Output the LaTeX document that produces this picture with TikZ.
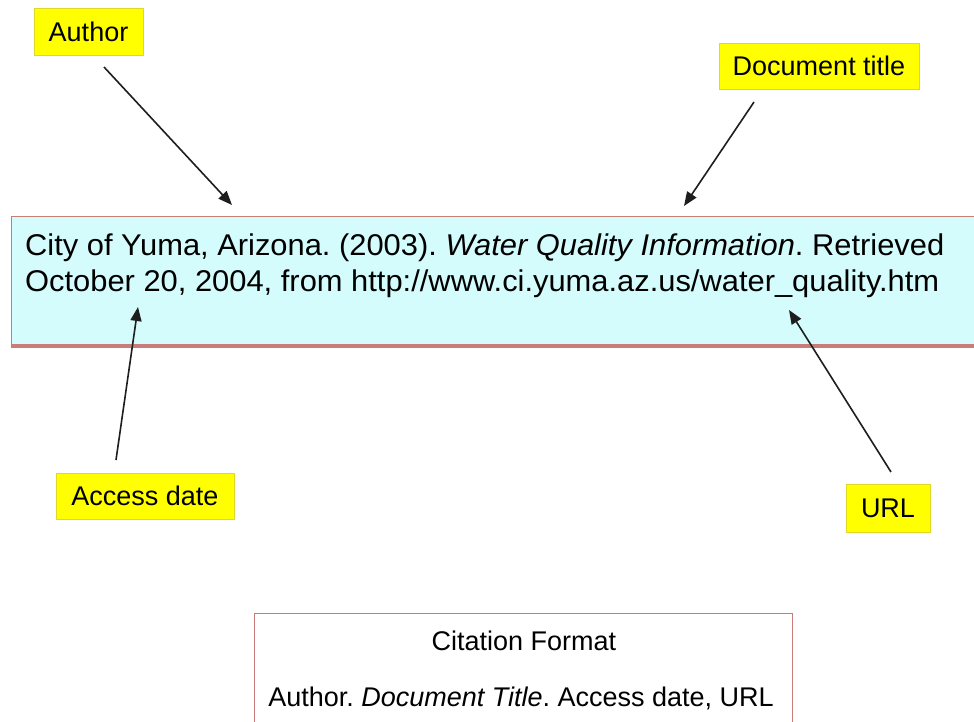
\documentclass[tikz,border=0pt]{standalone}
\usepackage{fontspec}
\setmainfont{Liberation Sans}
\usetikzlibrary{arrows.meta}
\frenchspacing
\definecolor{lblyellow}{RGB}{255,255,0}
\definecolor{lblborder}{RGB}{225,215,40}
\definecolor{boxfill}{RGB}{212,252,252}
\definecolor{boxborder}{RGB}{200,125,120}
\definecolor{arrowgray}{RGB}{30,30,30}
\tikzset{
  label box/.style={fill=lblyellow, draw=lblborder, line width=0.8pt, inner sep=0pt,
    font=\fontsize{27}{31}\selectfont, text=black},
  pointer/.style={draw=arrowgray, line width=1.6pt,
    -{Triangle[length=14pt,width=11pt]}},
  maintext/.style={anchor=base west, inner sep=0pt, font=\fontsize{30}{34}\selectfont},
}
\begin{document}
\begin{tikzpicture}[x=1pt,y=-1pt]
\clip (0,0) rectangle (974,721);
\fill[white] (0,0) rectangle (974,721);
% main citation box
\node[draw=boxborder, fill=boxfill, line width=1.2pt, minimum width=975pt, minimum height=128pt,
  inner sep=0pt, anchor=north west] (citation) at (11,216) {};
\draw[boxborder, line width=3pt] ([yshift=-1pt]citation.south west) -- ([yshift=-1pt]citation.south east);
\node[maintext] (line1) at (25,255)
  {\resizebox{919pt}{\height}{City of Yuma, Arizona. (2003). \textit{Water Quality Information}. Retrieved}};
\node[maintext] (line2) at (25,291)
  {\resizebox{914pt}{\height}{October 20, 2004, from http://www.ci.yuma.az.us/water\_quality.htm}};
% labels
\node[label box, minimum width=109pt, minimum height=47pt] (author) at (88.5,31.5) {Author};
\node[label box, minimum width=200pt, minimum height=46pt] (doctitle) at (819,66) {Document title};
\node[label box, minimum width=178pt, minimum height=46pt] (access) at (145,496) {Access date};
\node[label box, minimum width=84pt, minimum height=48pt] (url) at (888,508) {URL};
% arrow ends
\coordinate (authorTail) at (104,67);
\coordinate (authorTip) at (232,205);
\coordinate (titleTail) at (754,102);
\coordinate (titleTip) at (684,206);
\coordinate (accessTail) at (116,460);
\coordinate (accessTip) at (138,307);
\coordinate (urlTail) at (891,472);
\coordinate (urlTip) at (789,310);
\draw[pointer] (authorTail) -- (authorTip);
\draw[pointer] (titleTail) -- (titleTip);
\draw[pointer] (accessTail) -- (accessTip);
\draw[pointer] (urlTail) -- (urlTip);
% format box
\node[draw=boxborder, fill=white, line width=1.2pt, minimum width=538pt, minimum height=140pt,
  inner sep=0pt, anchor=north west] (format) at (254,613) {};
\node[anchor=base, inner sep=0pt, font=\fontsize{27}{31}\selectfont] (fmttitle) at (524,650) {Citation Format};
\node[anchor=base, inner sep=0pt, font=\fontsize{27}{31}\selectfont] (fmtline) at (521,706)
  {Author. \textit{Document Title}. Access date, URL};
\end{tikzpicture}
\end{document}
